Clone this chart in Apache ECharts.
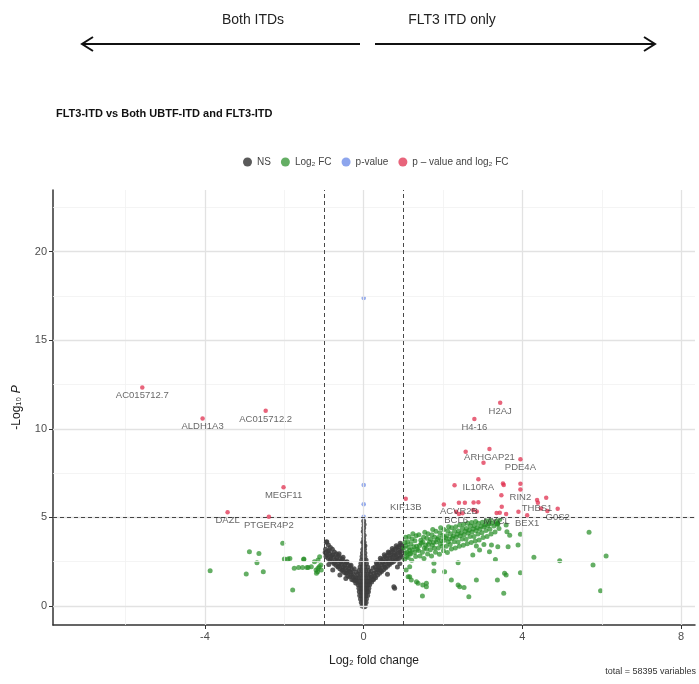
<!DOCTYPE html>
<html>
<head>
<meta charset="utf-8">
<script src="https://cdn.jsdelivr.net/npm/echarts@6/dist/echarts.min.js"></script>
<style>html,body{margin:0;padding:0;background:#fff}#c{width:699px;height:684px}</style>
</head>
<body>
<div id="c"></div>
<script>
// ---------- data ----------
const seriesNames = ['NS', 'Log\u2082 FC', 'p-value', 'p \u2013 value and log\u2082 FC'];
const xTicks = [-4, 0, 4, 8];
const xMinor = [-6, -2, 2, 6];
const yTicks = [0, 5, 10, 15, 20];
const yMinor = [2.5, 7.5, 12.5, 17.5, 22.5];
const fcCutoffs = [-1, 1];
const pCutoff = 5;

// NS (grey) points [log2FC, -log10P]
const nsPoints = [
  [-0.04,0.0],[0,0.0],[0.04,0.0],[0.02,-0.04],
  [-0.06,0.2],[-0.02,0.2],[0.02,0.2],[0.06,0.2],
  [-0.08,0.4],[-0.03,0.4],[0.02,0.4],[0.07,0.4],
  [-0.1,0.6],[-0.05,0.6],[0,0.6],[0.05,0.6],[0.1,0.6],
  [-0.11,0.8],[-0.06,0.8],[-0.01,0.8],[0.04,0.8],[0.09,0.8],[0.12,0.8],
  [-0.12,1.0],[-0.07,1.0],[-0.02,1.0],[0.03,1.0],[0.08,1.0],[0.13,1.0],
  [-0.14,1.2],[-0.09,1.2],[-0.04,1.2],[0.01,1.2],[0.06,1.2],[0.11,1.2],[0.15,1.2],
  [-0.17,1.4],[-0.11,1.4],[-0.05,1.4],[0,1.4],[0.05,1.4],[0.1,1.4],[0.16,1.4],
  [-0.18,1.6],[-0.12,1.6],[-0.06,1.6],[0,1.6],[0.06,1.6],[0.12,1.6],[0.18,1.6],
  [-0.15,1.8],[-0.08,1.8],[-0.02,1.8],[0.04,1.8],[0.1,1.8],[0.17,1.8],
  [-0.12,2.0],[-0.05,2.0],[0,2.0],[0.05,2.0],[0.13,2.0],
  [-0.09,2.2],[-0.03,2.2],[0.03,2.2],[0.1,2.2],
  [-0.07,2.4],[0,2.4],[0.07,2.4],
  [-0.05,2.6],[0.01,2.6],[0.06,2.6],
  [-0.04,2.8],[0.03,2.8],[-0.03,3.0],[0.03,3.0],[-0.02,3.2],[0.02,3.2],
  [0,3.4],[0.03,3.4],[-0.02,3.6],[0.01,3.6],[0,3.8],[0.01,4.0],[-0.01,4.2],
  [0,4.4],[0.01,4.6],[0,4.8],
  [-0.2,1.3],[-0.21,1.6],[-0.19,1.9],[-0.22,1.45],
  [-0.25,1.45],[-0.26,1.8],[-0.24,2.1],[-0.27,1.62],
  [-0.3,1.5],[-0.31,1.75],[-0.29,2.05],[-0.32,2.3],[-0.33,1.92],
  [-0.35,1.65],[-0.36,1.95],[-0.34,2.25],[-0.38,2.12],
  [-0.4,1.7],[-0.41,2.0],[-0.39,2.3],[-0.42,2.5],[-0.43,1.86],
  [-0.45,1.85],[-0.46,2.15],[-0.44,2.45],[-0.48,2.32],
  [-0.5,1.9],[-0.51,2.2],[-0.49,2.5],[-0.52,2.75],[-0.53,2.05],
  [-0.55,2.0],[-0.56,2.35],[-0.54,2.65],[-0.58,2.52],
  [-0.6,2.1],[-0.61,2.4],[-0.59,2.7],[-0.62,2.95],[-0.63,2.25],
  [-0.65,2.2],[-0.66,2.55],[-0.64,2.85],[-0.68,2.72],
  [-0.7,2.3],[-0.71,2.6],[-0.69,2.95],[-0.73,2.45],
  [-0.75,2.4],[-0.76,2.75],[-0.74,3.05],[-0.78,2.9],
  [-0.8,2.5],[-0.81,2.85],[-0.79,3.2],[-0.83,2.68],
  [-0.85,2.6],[-0.86,2.95],[-0.84,3.3],[-0.87,3.12],
  [-0.9,2.7],[-0.91,3.1],[-0.89,3.45],[-0.92,2.88],
  [-0.95,2.8],[-0.96,3.2],[-0.94,3.6],[-0.97,3.02],
  [-0.78,2.03],[-0.93,3.63],[-0.6,1.75],[-0.45,1.55],[-0.88,2.35],
  [0.2,1.35],[0.21,1.65],[0.19,1.95],[0.23,1.5],
  [0.25,1.5],[0.26,1.85],[0.24,2.15],[0.28,1.68],
  [0.3,1.6],[0.31,1.9],[0.29,2.2],[0.32,2.45],[0.33,2.05],
  [0.35,1.75],[0.36,2.05],[0.34,2.35],[0.38,2.2],
  [0.4,1.85],[0.41,2.15],[0.39,2.45],[0.42,2.7],[0.43,2.0],
  [0.45,1.95],[0.46,2.3],[0.44,2.6],[0.48,2.48],
  [0.5,2.05],[0.51,2.35],[0.49,2.65],[0.52,2.9],[0.53,2.2],
  [0.55,2.15],[0.56,2.5],[0.54,2.8],[0.58,2.68],
  [0.6,2.25],[0.61,2.55],[0.59,2.85],[0.62,3.05],[0.63,2.4],
  [0.65,2.35],[0.66,2.7],[0.64,3.0],[0.68,2.88],
  [0.7,2.45],[0.71,2.75],[0.69,3.05],[0.72,3.25],[0.73,2.6],
  [0.75,2.5],[0.76,2.85],[0.74,3.15],[0.78,3.0],
  [0.8,2.6],[0.81,2.9],[0.79,3.2],[0.82,3.4],[0.83,2.75],
  [0.85,2.65],[0.86,3.0],[0.84,3.3],[0.88,3.15],
  [0.9,2.7],[0.91,3.05],[0.89,3.35],[0.92,3.55],[0.93,2.88],
  [0.95,2.8],[0.96,3.1],[0.94,3.45],[0.97,3.28],
  [0.78,1.0],[0.91,2.4],[0.76,1.09],[0.6,1.8],[0.85,2.2]
];

// Log2 FC only (green) points
const fcPoints = [
  [1.03,2.62],[1.05,2.98],[1.01,3.27],[1.04,3.58],[1.06,3.88],[1.08,2.8],[1.07,3.42],
  [1.12,2.74],[1.09,3.04],[1.13,3.31],[1.11,3.63],[1.14,3.93],[1.16,3.15],
  [1.21,2.58],[1.18,2.93],[1.23,3.18],[1.19,3.52],[1.22,3.79],[1.24,4.08],[1.26,3.35],
  [1.31,2.79],[1.28,3.02],[1.33,3.37],[1.29,3.68],[1.32,3.97],[1.35,3.2],
  [1.42,2.83],[1.38,3.13],[1.41,3.42],[1.44,3.71],[1.39,4.02],[1.45,3.55],
  [1.52,2.68],[1.48,3.03],[1.53,3.28],[1.49,3.62],[1.51,3.88],[1.54,4.17],[1.56,3.45],
  [1.61,2.93],[1.58,3.22],[1.63,3.48],[1.59,3.83],[1.62,4.08],[1.66,3.62],
  [1.71,2.82],[1.68,3.18],[1.73,3.43],[1.69,3.77],[1.72,4.03],[1.74,4.32],[1.76,3.58],
  [1.81,3.03],[1.78,3.28],[1.83,3.62],[1.79,3.88],[1.82,4.22],[1.86,3.75],
  [1.91,2.92],[1.88,3.27],[1.93,3.52],[1.89,3.87],[1.92,4.13],[1.94,4.42],[1.96,3.68],
  [2.01,3.12],[1.98,3.38],[2.03,3.72],[1.99,3.98],[2.02,4.32],[2.06,3.85],
  [2.11,3.02],[2.08,3.37],[2.13,3.63],[2.09,3.97],[2.12,4.23],[2.14,4.47],[2.16,3.78],
  [2.21,3.22],[2.18,3.48],[2.23,3.82],[2.19,4.08],[2.22,4.42],[2.26,3.95],
  [2.31,3.28],[2.28,3.63],[2.33,3.88],[2.29,4.22],[2.32,4.48],[2.36,4.05],
  [2.41,3.37],[2.38,3.62],[2.43,3.97],[2.39,4.23],[2.42,4.57],[2.46,4.12],
  [2.51,3.43],[2.48,3.78],[2.53,4.03],[2.49,4.37],[2.52,4.62],[2.56,4.22],
  [2.61,3.52],[2.58,3.77],[2.63,4.12],[2.59,4.38],[2.62,4.67],[2.66,4.28],
  [2.71,3.58],[2.68,3.92],[2.73,4.18],[2.69,4.52],[2.72,4.72],[2.76,4.35],
  [2.81,3.67],[2.78,3.93],[2.83,4.27],[2.79,4.53],[2.82,4.77],[2.86,4.42],
  [2.91,3.73],[2.88,4.07],[2.93,4.33],[2.89,4.67],[2.96,4.5],
  [3.01,3.87],[2.98,4.13],[3.03,4.47],[2.99,4.73],[3.06,4.58],
  [3.11,3.93],[3.08,4.27],[3.13,4.53],[3.09,4.82],[3.16,4.65],
  [3.21,4.07],[3.18,4.33],[3.23,4.67],[3.19,4.86],
  [3.31,4.18],[3.28,4.52],[3.33,4.78],[3.36,4.62],
  [3.41,4.37],[3.38,4.63],[3.43,4.88],
  [1.16,2.97],[1.16,1.66],[1.33,1.37],[1.49,1.19],[1.58,1.09],[1.48,0.56],
  [1.77,2.41],[1.77,1.98],[2.04,1.94],[2.21,1.47],[2.38,1.19],[2.42,1.09],
  [2.53,1.05],[2.65,0.53],[2.38,2.45],[2.84,1.47],[2.75,2.88],[2.92,3.16],
  [3.17,3.06],[3.32,2.63],[3.38,3.35],[3.37,1.47],[3.55,1.85],[3.59,1.75],
  [3.53,0.72],[3.64,3.35],[3.68,4.0],[3.61,4.19],[3.89,3.44],[3.95,4.05],
  [3.95,1.88],[4.29,2.75],[4.94,2.56],[3.03,3.48],[3.22,3.44],[2.84,3.39],
  [3.59,4.57],[3.38,4.67],
  [5.68,4.16],[5.78,2.31],[6.11,2.82],[5.97,0.86],
  [1.07,2.03],[1.12,1.66],[1.2,1.47],[1.37,1.28],[1.16,2.22],[1.58,1.28],
  [-3.87,1.99],[-2.88,3.06],[-2.64,2.97],[-2.69,2.45],[-2.96,1.81],[-2.53,1.94],
  [-2.04,3.54],[-2.0,2.65],[-1.91,2.65],[-1.86,2.69],[-1.75,2.13],
  [-1.64,2.18],[-1.54,2.18],[-1.43,2.18],[-1.51,2.65],[-1.79,0.9],
  [-1.24,2.5],[-1.2,2.03],[-1.12,2.22],[-1.08,2.31],[-1.16,1.94],
  [-1.51,2.63],[-1.4,2.18],[-1.32,2.22],[-1.15,2.6],[-1.11,2.78],
  [-1.15,2.13],[-1.07,2.03],[-1.19,1.85]
];

// p-value only (blue) points
const pPoints = [[0.0,17.38],[0.0,6.83],[0.0,5.74],[0.0,5.04]];

// p-value and log2 FC (red) points, with gene labels ('' = unlabelled)
const sigPoints = [
  [-5.58,12.34],[-4.06,10.59],[-2.47,11.02],[-2.02,6.70],[-3.43,5.30],[-2.39,5.04],
  [1.06,6.06],[3.44,11.47],[2.79,10.55],[2.57,8.71],[3.17,8.86],[3.02,8.09],
  [3.95,8.28],[2.89,7.15],[2.29,6.81],[3.51,6.92],[3.53,6.83],[3.95,6.90],
  [3.95,6.58],[3.47,6.25],[4.37,5.98],[4.60,6.11],[4.39,5.83],[4.89,5.49],
  [4.47,5.51],[4.63,5.36],[3.90,5.32],[3.48,5.60],[3.35,5.25],[3.43,5.27],
  [3.59,5.19],[4.12,5.12],[2.02,5.73],[2.40,5.83],[2.55,5.83],[2.77,5.84],
  [2.89,5.86],[2.33,5.32],[2.40,5.19],[2.49,5.23],[2.76,5.42],[2.85,5.34]
];
const sigLabels = [
  'AC015712.7','ALDH1A3','AC015712.2','MEGF11','DAZL','PTGER4P2',
  'KIF13B','H2AJ','H4-16','','ARHGAP21','',
  'PDE4A','IL10RA','','','','',
  'RIN2','','THBS1','','','G0S2',
  '','','','','MYCL','',
  '','BEX1','','ACVR2B','','',
  '','BCL6','','','',''
];

// ---------- chart ----------
const FONT = 'Liberation Sans, Arial, sans-serif';
const chart = echarts.init(document.getElementById('c'), null, {renderer: 'canvas'});

const gridLines = [];
xMinor.forEach(v => gridLines.push({xAxis: v, lineStyle: {color: '#f1f1f1', width: 0.8, type: 'solid'}}));
yMinor.forEach(v => gridLines.push({yAxis: v, lineStyle: {color: '#f1f1f1', width: 0.8, type: 'solid'}}));
xTicks.forEach(v => gridLines.push({xAxis: v, lineStyle: {color: '#e2e2e2', width: 1.3, type: 'solid'}}));
yTicks.forEach(v => gridLines.push({yAxis: v, lineStyle: {color: '#e2e2e2', width: 1.3, type: 'solid'}}));

const cutLines = [];
fcCutoffs.forEach(v => cutLines.push({xAxis: v}));
cutLines.push({yAxis: pCutoff});

const sigData = sigPoints.map((p, i) => sigLabels[i]
  ? {value: p, label: {show: true, formatter: sigLabels[i]}}
  : {value: p});

const option = {
  animation: false,
  backgroundColor: '#ffffff',
  title: {
    text: 'FLT3-ITD vs Both UBTF-ITD and FLT3-ITD',
    left: 51, top: 103,
    textStyle: {fontFamily: FONT, fontSize: 11, fontWeight: 'bold', color: '#111'}
  },
  legend: {
    data: seriesNames,
    left: 238, top: 152,
    icon: 'circle', itemWidth: 9, itemHeight: 9, itemGap: 10,
    textStyle: {fontFamily: FONT, fontSize: 10, color: '#444'}
  },
  grid: {left: 53, right: 4, top: 190, bottom: 59},
  xAxis: {
    type: 'value', min: -7.83, max: 8.35,
    name: 'Log\u2082 fold change', nameLocation: 'middle', nameGap: 30,
    nameTextStyle: {fontFamily: FONT, fontSize: 12, color: '#222'},
    axisLine: {show: true, onZero: false, lineStyle: {color: '#333', width: 1.5}},
    axisTick: {show: true, customValues: xTicks, length: 4, lineStyle: {color: '#333'}},
    axisLabel: {customValues: xTicks, fontFamily: FONT, fontSize: 11, color: '#4d4d4d', margin: 6},
    splitLine: {show: false}
  },
  yAxis: {
    type: 'value', min: -1.07, max: 23.48,
    name: '{a|-Log\u2081\u2080 }{b|P}', nameLocation: 'middle', nameGap: 30, nameRotate: 90,
    nameTextStyle: {fontFamily: FONT, fontSize: 12, color: '#222',
      rich: {a: {fontFamily: FONT, fontSize: 12, color: '#222'},
             b: {fontFamily: FONT, fontSize: 12, color: '#222', fontStyle: 'italic'}}},
    axisLine: {show: true, onZero: false, lineStyle: {color: '#333', width: 1.5}},
    axisTick: {show: true, customValues: yTicks, length: 4, lineStyle: {color: '#333'}},
    axisLabel: {customValues: yTicks, fontFamily: FONT, fontSize: 11, color: '#4d4d4d', margin: 6},
    splitLine: {show: false}
  },
  series: [
    {
      type: 'scatter', name: 'grid', data: [], silent: true, z: 1,
      markLine: {silent: true, symbol: 'none', label: {show: false}, animation: false, data: gridLines}
    },
    {
      type: 'scatter', name: seriesNames[0], data: nsPoints, symbolSize: 5, z: 2,
      itemStyle: {color: '#3d3d3d', opacity: 0.85}
    },
    {
      type: 'scatter', name: seriesNames[1], data: fcPoints, symbolSize: 5, z: 3,
      itemStyle: {color: '#228B22', opacity: 0.7}
    },
    {
      type: 'scatter', name: seriesNames[2], data: pPoints, symbolSize: 4.5, z: 4,
      itemStyle: {color: '#4169E1', opacity: 0.6}
    },
    {
      type: 'scatter', name: seriesNames[3], data: sigData, symbolSize: 4.5, z: 5,
      itemStyle: {color: '#E0304F', opacity: 0.75},
      label: {show: false, position: 'bottom', distance: 1, fontFamily: FONT, fontSize: 9.5, color: '#333'},
      markLine: {silent: true, symbol: 'none', label: {show: false}, animation: false,
        lineStyle: {color: '#333', width: 0.9, type: [4, 3]}, data: cutLines}
    }
  ],
  graphic: [
    {type: 'text', x: 253, y: 20, style: {text: 'Both ITDs', font: '14px ' + FONT, fill: '#222', textAlign: 'center', textVerticalAlign: 'middle'}},
    {type: 'text', x: 452, y: 20, style: {text: 'FLT3 ITD only', font: '14px ' + FONT, fill: '#222', textAlign: 'center', textVerticalAlign: 'middle'}},
    {type: 'line', shape: {x1: 82, y1: 44, x2: 360, y2: 44}, style: {stroke: '#111', lineWidth: 2}},
    {type: 'polyline', shape: {points: [[93, 37], [82, 44], [93, 51]]}, style: {stroke: '#111', lineWidth: 2, fill: null}},
    {type: 'line', shape: {x1: 375, y1: 44, x2: 655, y2: 44}, style: {stroke: '#111', lineWidth: 2}},
    {type: 'polyline', shape: {points: [[644, 37], [655, 44], [644, 51]]}, style: {stroke: '#111', lineWidth: 2, fill: null}},
    {type: 'text', right: 3, top: 667, style: {text: 'total = 58395 variables', font: '9px ' + FONT, fill: '#333'}}
  ]
};
chart.setOption(option);
</script>
</body>
</html>
